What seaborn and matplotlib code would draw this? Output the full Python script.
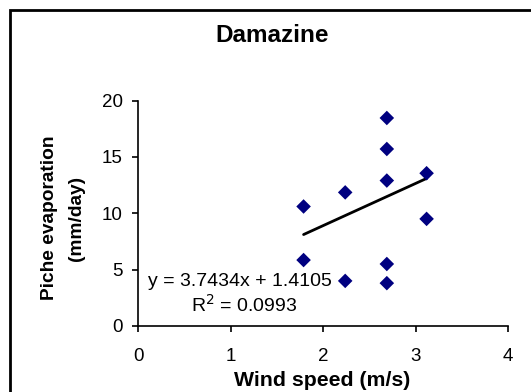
import matplotlib
matplotlib.use("Agg")
import matplotlib.pyplot as plt
import seaborn as sns
import numpy as np
import pandas as pd
from matplotlib.patches import Rectangle

# Data
wind_speed = [1.79, 1.79, 2.24, 2.24, 2.69, 2.69, 2.69, 2.69, 2.69, 3.12, 3.12]
evaporation = [10.6, 5.85, 11.85, 4.0, 18.45, 15.7, 12.9, 5.5, 3.8, 13.55, 9.5]
slope = 3.7434
intercept = 1.4105
r_squared = 0.0993
x_ticks = [0, 1, 2, 3, 4]
y_ticks = [0, 5, 10, 15, 20]

sns.set_theme(style="white")
plt.rcParams['font.family'] = ['Liberation Sans', 'DejaVu Sans']
plt.rcParams['text.color'] = 'black'
plt.rcParams['axes.labelcolor'] = 'black'

fig = plt.figure(figsize=(5.31, 3.92), dpi=100)
W, H = 531, 392
ax = fig.add_axes([138 / W, 1 - 326 / H, (508 - 138) / W, (326 - 100.5) / H])

df = pd.DataFrame({"wind": wind_speed, "evap": evaporation})
sns.scatterplot(data=df, x="wind", y="evap", marker="D", s=55, color="#000080",
                edgecolor="none", ax=ax, zorder=3, clip_on=False)

xl = np.array([min(wind_speed), max(wind_speed)])
sns.lineplot(x=xl, y=slope * xl + intercept, color="black", lw=2, ax=ax, zorder=2)

ax.set_xlim(0, 4)
ax.set_ylim(0, 20)
ax.set_xticks(x_ticks)
ax.set_yticks(y_ticks)
ax.set_xticklabels([str(t) for t in x_ticks])
ax.set_yticklabels([str(t) for t in y_ticks])
ax.tick_params(axis="both", direction="out", length=4.5, width=1.2, color="black",
               labelsize=13.5, labelcolor="black", bottom=True, left=True)
ax.tick_params(axis="x", pad=11)
ax.tick_params(axis="y", pad=6.5)
for side in ["top", "right"]:
    ax.spines[side].set_visible(False)
for side in ["left", "bottom"]:
    ax.spines[side].set_color("black")
    ax.spines[side].set_linewidth(1.2)
ax.set_facecolor("white")
ax.grid(False)

ax.set_xlabel("")
ax.set_ylabel("")
fig.text(322 / W, 1 - 380 / H, "Wind speed (m/s)", ha="center", va="center",
         fontsize=15.3, fontweight="bold", color="black")
fig.text(50 / W, 1 - 218 / H, "Piche evaporation", ha="center", va="center",
         rotation=90, fontsize=13.8, fontweight="bold", color="black")
fig.text(77 / W, 1 - 218 / H, "(mm/day)", ha="center", va="center",
         rotation=90, fontsize=13.8, fontweight="bold", color="black")
fig.text(272 / W, 1 - 36 / H, "Damazine", ha="center", va="center",
         fontsize=17.5, fontweight="bold", color="black")

fig.text(148 / W, 1 - 282 / H, f"y = {slope}x + {intercept}", ha="left", va="center",
         fontsize=14, color="black")
fig.text(191 / W, 1 - 305 / H, f"R$^2$ = {r_squared}", ha="left", va="center",
         fontsize=14, color="black")

fig.patches.append(Rectangle((9.5 / W, -0.05), 1.2, 1 - 9.5 / H + 0.05,
                             transform=fig.transFigure, fill=False,
                             edgecolor="black", lw=2, figure=fig))

fig.savefig("out.png", dpi=100, facecolor="white")
